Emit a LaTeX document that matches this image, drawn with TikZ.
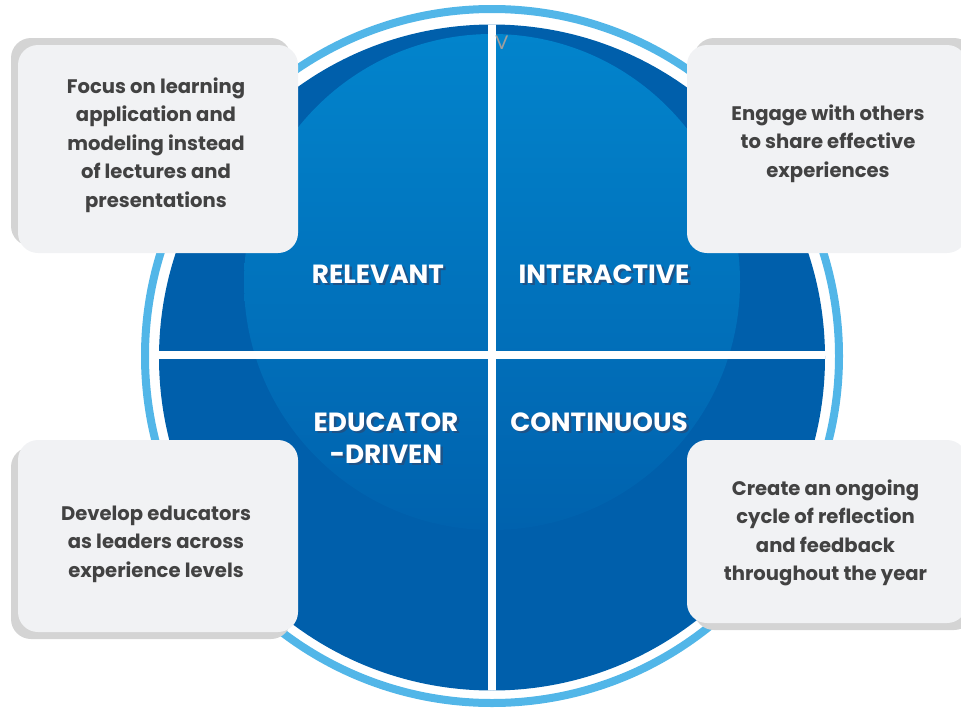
\documentclass[tikz,border=0pt]{standalone}
\usepackage{fontspec}
\setmainfont{Poppins}
\newfontfamily\vfont{Lato}
\definecolor{ringblue}{HTML}{52B6E8}
\definecolor{darkblue}{HTML}{005FAB}
\definecolor{midblue}{HTML}{0284CC}
\definecolor{boxfill}{HTML}{F1F2F4}
\definecolor{boxshadow}{HTML}{D4D4D4}
\definecolor{txtgray}{HTML}{424242}
\definecolor{lblshadow}{HTML}{1E5388}
\begin{document}
\begin{tikzpicture}[x=1pt,y=-1pt,
  card/.style={fill=boxfill, rounded corners=20pt, inner sep=0pt, minimum width=280pt},
  cardshadow/.style={fill=boxshadow, rounded corners=20pt, inner sep=0pt, minimum width=280pt},
  boxtext/.style={text=txtgray, align=center, anchor=base, inner sep=0pt,
    font=\fontsize{19.6}{28.5}\selectfont\bfseries},
  lbl/.style={text=white, align=center, anchor=base, inner sep=0pt,
    font=\fontsize{26.3}{32}\selectfont\bfseries},
  lblsh/.style={lbl, text=lblshadow},
  divider/.style={white, line width=8.7pt}]
\useasboundingbox (0,0) rectangle (961,707);
% rings and disc
\draw[ringblue, line width=8pt] (492,356) circle[radius=347];
\fill[darkblue] (492,357.5) circle[radius=333];
\begin{scope}
  \clip (492,357.5) circle[radius=333];
  \shade[top color=midblue, middle color=midblue!90!darkblue, bottom color=darkblue!92!midblue]
    (492,282) circle[radius=248];
  \draw[divider] (492,15) -- (492,700);
  \draw[divider] (150,355) -- (835,355);
\end{scope}
\node[text=gray!75, font=\vfont\fontsize{19}{19}\selectfont, anchor=base, inner sep=0pt] (vmark) at (501.7,49) {V};
% labels (shadow copy first)
\node[lblsh] (relsh) at (380.5,285.5) {RELEVANT};
\node[lbl] (rel) at (378,283) {RELEVANT};
\node[lblsh] (intsh) at (606.5,285.5) {INTERACTIVE};
\node[lbl] (int) at (604,283) {INTERACTIVE};
\node[lblsh] (edush) at (388.5,465.5) {EDUCATOR\\-DRIVEN};
\node[lbl] (edu) at (386,463) {EDUCATOR\\-DRIVEN};
\node[lblsh] (consh) at (601.5,433.5) {CONTINUOUS};
\node[lbl] (con) at (599,431) {CONTINUOUS};
% cards
\node[cardshadow, minimum height=208pt] (tlsh) at (151,142) {};
\node[card, minimum height=208pt] (tl) at (158,149) {};
\node[cardshadow, minimum height=208pt] (trsh) at (834,142) {};
\node[card, minimum height=208pt] (tr) at (827,149) {};
\node[cardshadow, minimum height=192pt] (blsh) at (151,543) {};
\node[card, minimum height=192pt] (bl) at (158,536) {};
\node[cardshadow, minimum height=183pt] (brsh) at (834,538.5) {};
\node[card, minimum height=183pt] (br) at (827,531.5) {};
% card texts (anchor=base is the last line's baseline)
\node[boxtext] (tltext) at (156,207) {Focus on learning\\application and\\modeling instead\\of lectures and\\presentations};
\node[boxtext] (trtext) at (828,177) {Engage with others\\to share effective\\experiences};
\node[boxtext] (bltext) at (156,577) {Develop educators\\as leaders across\\experience levels};
\node[boxtext] (brtext) at (825.5,580.5) {Create an ongoing\\cycle of reflection\\and feedback\\throughout the year};
\end{tikzpicture}
\end{document}
